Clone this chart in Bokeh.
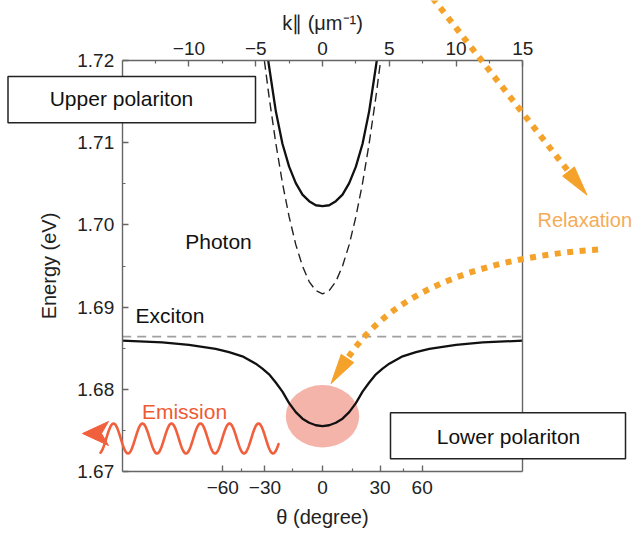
import numpy as np
from bokeh.plotting import figure
from bokeh.models import (LinearAxis, FixedTicker, Range1d, Label, BoxAnnotation,
                          PolyAnnotation, Arrow)
from bokeh.embed import file_html
from bokeh.resources import INLINE

# ---------------- data ----------------
k_upper = [-4.06, -4.0, -3.5, -3.0, -2.5, -2.0, -1.5, -1.0, -0.5, 0.0,
           0.5, 1.0, 1.5, 2.0, 2.5, 3.0, 3.5, 4.0, 4.06]
E_upper = [1.7200, 1.7193, 1.7139, 1.7099, 1.7071, 1.7051, 1.7037, 1.7029, 1.7024, 1.7023,
           1.7024, 1.7029, 1.7037, 1.7051, 1.7071, 1.7099, 1.7139, 1.7193, 1.7200]

k_photon = [-4.35, -4.0, -3.5, -3.0, -2.5, -2.0, -1.5, -1.0, -0.5, 0.0,
            0.5, 1.0, 1.5, 2.0, 2.5, 3.0, 3.5, 4.0, 4.35]
E_photon = [1.7200, 1.7156, 1.7100, 1.7051, 1.7010, 1.6976, 1.6950, 1.6931, 1.6920, 1.6916,
            1.6920, 1.6931, 1.6950, 1.6976, 1.7010, 1.7051, 1.7100, 1.7156, 1.7200]

k_lower = [-15, -12, -10, -8, -7, -6, -5, -4.5, -4, -3.5, -3, -2.5, -2, -1.5, -1, -0.5, 0,
           0.5, 1, 1.5, 2, 2.5, 3, 3.5, 4, 4.5, 5, 6, 7, 8, 10, 12, 15]
E_lower = [1.6859, 1.6857, 1.6854, 1.6849, 1.6845, 1.6840, 1.6831, 1.6825, 1.6818, 1.6808,
           1.6797, 1.6783, 1.6772, 1.6764, 1.6759, 1.6756, 1.6755,
           1.6756, 1.6759, 1.6764, 1.6772, 1.6783, 1.6797, 1.6808, 1.6818, 1.6825,
           1.6831, 1.6840, 1.6845, 1.6849, 1.6854, 1.6857, 1.6859]

k_exciton = [-15, 15]
E_exciton = [1.6864, 1.6864]

spot_k = [0.0]
spot_E = [1.6767]
spot_w = [5.5]
spot_h = [0.0076]

k_ticks = [-10, -5, 0, 5, 10, 15]
k_tick_labels = ["−10", "−5", "0", "5", "10", "15"]
k_minor = [-12.5, -7.5, -2.5, 2.5, 7.5, 12.5]
k_bounds = (-15, 15)

E_ticks = [1.67, 1.68, 1.69, 1.70, 1.71, 1.72]
E_tick_labels = ["1.67", "1.68", "1.69", "1.70", "1.71", "1.72"]
E_minor = [1.675, 1.685, 1.695, 1.705, 1.715]
E_bounds = (1.67, 1.72)

theta_ticks = [-60, -30, 0, 30, 60]
theta_tick_labels = ["−60", "−30", "0", "30", "60"]
theta_minor = [-45, -15, 15, 45]
k_light = 8.62  # E/(hbar c) in um^-1 : k = k_light * sin(theta)

# ---------------- layout: the frame fills the canvas, the plot box sits inside ----------------
W, H = 634, 532
FX0, FX1, FY0, FY1 = 121.7, 522.3, 60.3, 470.7   # pixel position of the plot box


def px2k(px):
    return k_bounds[0] + (px - FX0) * (k_bounds[1] - k_bounds[0]) / (FX1 - FX0)


def py2E(py):
    return E_bounds[1] - (py - FY0) * (E_bounds[1] - E_bounds[0]) / (FY1 - FY0)


FONT = "Liberation Sans"
AXC = "#666666"

p = figure(width=W, height=H, x_range=Range1d(px2k(0), px2k(W)),
           y_range=Range1d(py2E(H), py2E(0)),
           x_axis_location="above", output_backend="svg", toolbar_location=None,
           min_border_left=0, min_border_right=0, min_border_top=0, min_border_bottom=0)
p.xgrid.visible = False
p.ygrid.visible = False
p.outline_line_color = None
p.background_fill_color = "white"
p.border_fill_color = "white"


def style_axis(ax):
    ax.axis_line_color = AXC
    ax.axis_line_width = 1.4
    ax.major_tick_line_color = AXC
    ax.minor_tick_line_color = AXC
    ax.major_tick_line_width = 1.4
    ax.minor_tick_line_width = 1.2
    ax.major_tick_in = 6
    ax.major_tick_out = 0
    ax.minor_tick_in = 3
    ax.minor_tick_out = 0
    ax.major_label_text_font = FONT
    ax.major_label_text_font_size = "19px"
    ax.major_label_text_color = "#222222"
    ax.axis_label_text_font = FONT
    ax.axis_label_text_font_size = "20px"
    ax.axis_label_text_font_style = "normal"
    ax.axis_label_text_color = "#222222"


top = p.xaxis[0]
top.ticker = FixedTicker(ticks=k_ticks, minor_ticks=k_minor)
top.major_label_overrides = {t: l for t, l in zip(k_ticks, k_tick_labels)}
top.axis_label = "k∥ (μm⁻¹)"
top.fixed_location = E_bounds[1]
top.bounds = k_bounds
style_axis(top)
top.major_label_standoff = 6
top.axis_label_standoff = 5

left = p.yaxis[0]
left.ticker = FixedTicker(ticks=E_ticks, minor_ticks=E_minor)
left.major_label_overrides = {t: l for t, l in zip(E_ticks, E_tick_labels)}
left.axis_label = "Energy (eV)"
left.fixed_location = k_bounds[0]
left.bounds = E_bounds
style_axis(left)
left.major_label_standoff = 8
left.axis_label_standoff = 15

theta_pos = [float(k_light * np.sin(np.radians(t))) for t in theta_ticks]
theta_minor_pos = [float(k_light * np.sin(np.radians(t))) for t in theta_minor]
bottom = LinearAxis(ticker=FixedTicker(ticks=theta_pos, minor_ticks=theta_minor_pos),
                    axis_label="θ (degree)", fixed_location=E_bounds[0], bounds=k_bounds)
bottom.major_label_overrides = {t: l for t, l in zip(theta_pos, theta_tick_labels)}
style_axis(bottom)
bottom.major_label_standoff = 10
bottom.axis_label_standoff = 8
p.add_layout(bottom, "below")

right = LinearAxis(ticker=FixedTicker(ticks=[], minor_ticks=[]),
                   fixed_location=k_bounds[1], bounds=E_bounds)
style_axis(right)
p.add_layout(right, "right")

# ---------------- glyphs ----------------
p.ellipse(x=spot_k, y=spot_E, width=spot_w, height=spot_h,
          fill_color="#f09080", fill_alpha=0.68, line_color=None)
p.line(k_exciton, E_exciton, line_color="#a0a0a0", line_width=1.8, line_dash="9 6")
p.line(k_photon, E_photon, line_color="#222222", line_width=1.4, line_dash="9 5")
p.line(k_upper, E_upper, line_color="#111111", line_width=2.3)
p.line(k_lower, E_lower, line_color="#111111", line_width=2.3)

# ---------------- annotations (placed in reference pixel space) ----------------


def box_label(x0, x1, y0, y1, tx, ty, text):
    p.add_layout(BoxAnnotation(left=px2k(x0), right=px2k(x1), top=py2E(y0), bottom=py2E(y1),
                               fill_color="white", fill_alpha=1.0, line_alpha=1.0,
                               line_color="#222222", line_width=1.5, level="overlay"))
    p.add_layout(Label(x=px2k(tx), y=py2E(ty), text=text, text_align="center",
                       text_baseline="middle", text_font=FONT, text_font_size="21px",
                       text_color="#111111", level="overlay"))


box_label(7.5, 255, 76, 122.3, 121, 98, "Upper polariton")
box_label(390, 625, 412.3, 458.3, 508, 436, "Lower polariton")


def label(tx, ty, text, color="#111111", align="center", size="21px"):
    p.add_layout(Label(x=px2k(tx), y=py2E(ty), text=text, text_align=align,
                       text_baseline="middle", text_font=FONT, text_font_size=size,
                       text_color=color))


label(218, 241, "Photon")
label(135, 315, "Exciton", align="left")
label(184, 411, "Emission", color="#f05a32")
label(537, 219, "Relaxation", color="#f5ac58", align="left", size="20px")

ORANGE = "#f4a229"


def poly(pts, color, fill=True, lw=1.0):
    xs = [float(px2k(x)) for x, _ in pts]
    ys = [float(py2E(y)) for _, y in pts]
    p.add_layout(PolyAnnotation(xs=xs, ys=ys, fill_color=color, fill_alpha=1.0 if fill else 0.0,
                                line_color=color, line_alpha=1.0, line_width=lw,
                                line_join="round", level="overlay"))


def head(base, tip, half, color):
    b = np.array(base, float)
    t = np.array(tip, float)
    d = (t - b) / np.linalg.norm(t - b)
    n = np.array([-d[1], d[0]])
    poly([tuple(t), tuple(b + half * n), tuple(b - half * n)], color)


def dotted(path, color, period=12.5, dash=6.0, width=6.0):
    path = np.asarray(path, float)
    seg = np.diff(path, axis=0)
    s = np.concatenate([[0], np.cumsum(np.hypot(seg[:, 0], seg[:, 1]))])
    L = s[-1]
    c = L - dash / 2 - 2
    while c - dash / 2 > 0:
        a, b = c - dash / 2, c + dash / 2
        xa, ya = np.interp(a, s, path[:, 0]), np.interp(a, s, path[:, 1])
        xb, yb = np.interp(b, s, path[:, 0]), np.interp(b, s, path[:, 1])
        p.add_layout(Arrow(end=None, x_start=float(px2k(xa)), y_start=float(py2E(ya)),
                           x_end=float(px2k(xb)), y_end=float(py2E(yb)),
                           line_color=color, line_width=width, line_cap="butt", level="overlay"))
        c -= period


# relaxation arrow 1 (straight, entering from the top)
a1_start, a1_base = (431.0, -4.0), (568.0, 171.0)
t = np.linspace(0, 1, 50)[:, None]
dotted(np.array(a1_start) * (1 - t) + np.array(a1_base) * t, ORANGE)
u = np.array(a1_base) - np.array(a1_start)
u = u / np.linalg.norm(u)
head(a1_base, tuple(np.array(a1_base) + 30 * u), 7.5, ORANGE)

# relaxation arrow 2 (curved, into the lower polariton)
P0, C, P2 = np.array([598.0, 249.0]), np.array([410.0, 262.0]), np.array([347.0, 358.0])
tt = np.linspace(0, 1, 300)[:, None]
bez = (1 - tt) ** 2 * P0 + 2 * tt * (1 - tt) * C + tt ** 2 * P2
dotted(bez, ORANGE)
d2 = (P2 - C) / np.linalg.norm(P2 - C)
head(tuple(P2), tuple(P2 + 30 * d2), 7.5, ORANGE)

# emission wave + arrow
RED = "#f1603c"
wx = np.linspace(100, 278, 240)
wy = 438 - 15 * np.cos(2 * np.pi * (wx - 113) / 29.0)
fw = list(zip(wx, wy))
poly(fw + fw[::-1], RED, fill=False, lw=2.6)
poly([(82, 433), (108, 421), (101, 433), (108, 445)], RED)

open("out.html", "w").write(file_html(p, INLINE))
